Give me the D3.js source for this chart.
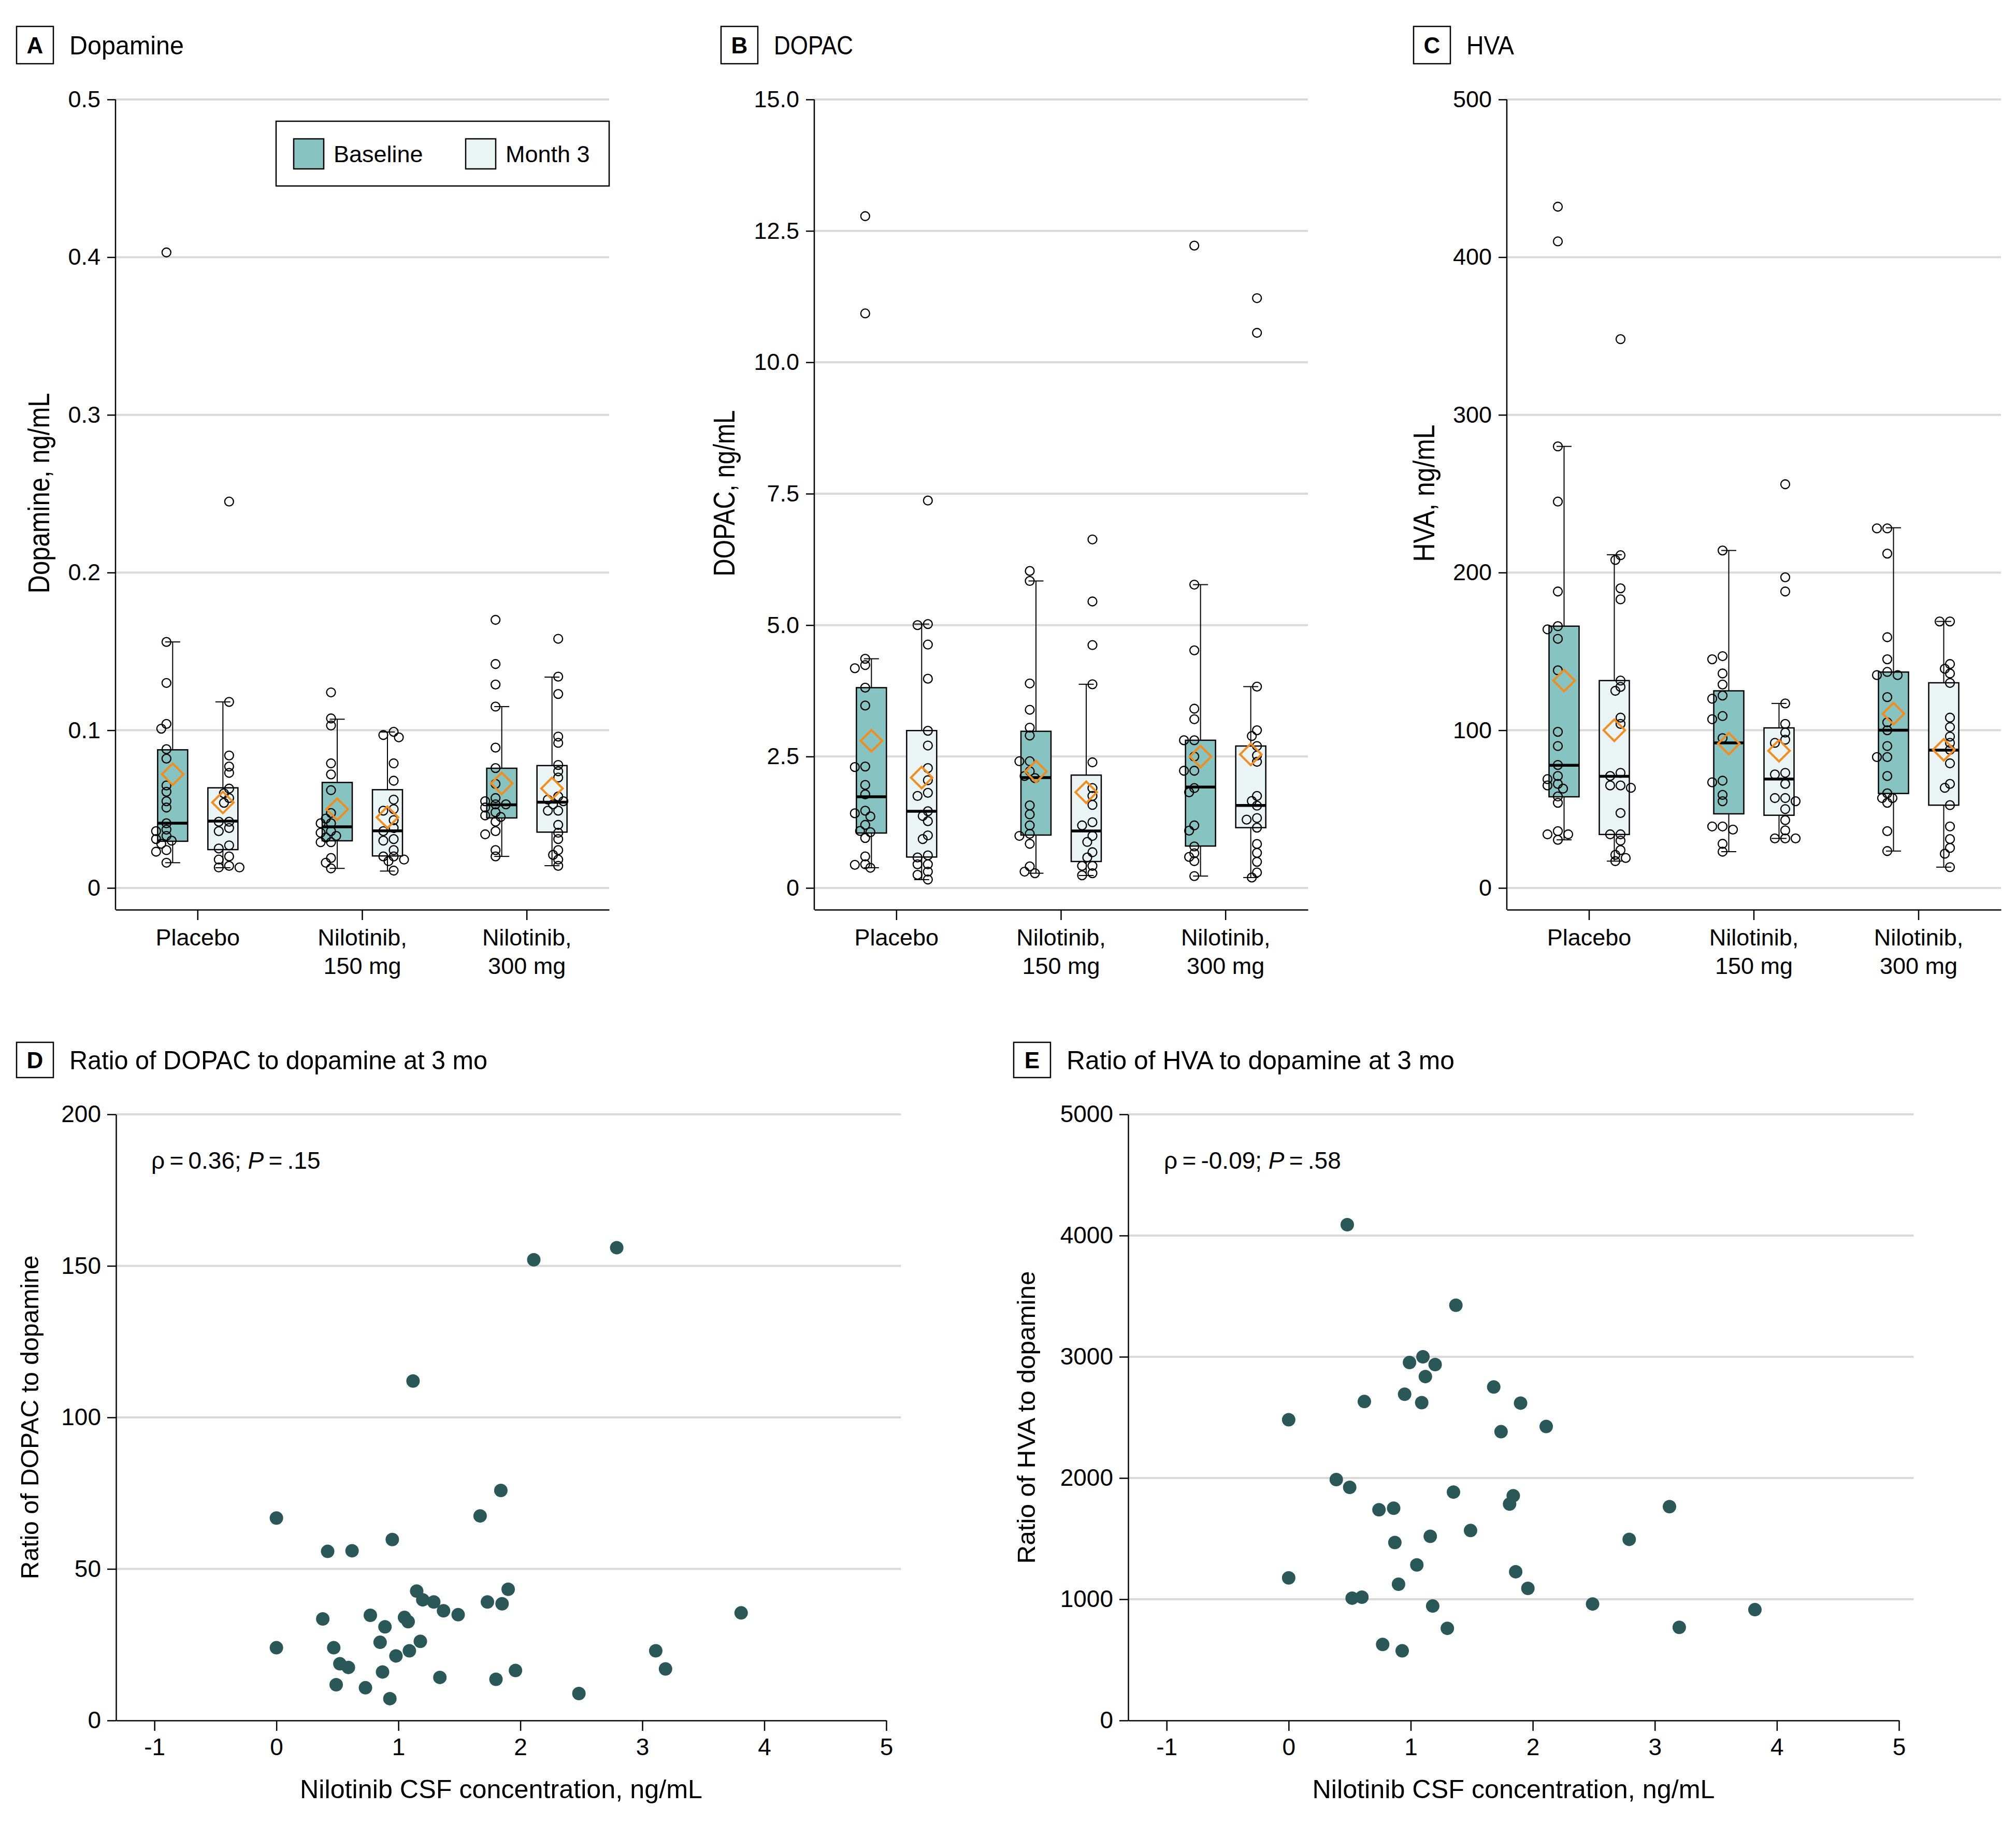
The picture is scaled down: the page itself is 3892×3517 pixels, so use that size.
<!DOCTYPE html>
<html>
<head>
<meta charset="utf-8">
<script src="https://cdn.jsdelivr.net/npm/d3@7"></script>
<style>
  body { margin: 0; background: #fff; }
  svg text { font-family: "Liberation Sans", Arial, sans-serif; fill: #000; }
</style>
</head>
<body>
<svg id="chart" width="3892" height="3517"></svg>
<script>
// ---- categories ----
const groups = ["Placebo", "Nilotinib, 150 mg", "Nilotinib, 300 mg"];
const groupLines = [["Placebo"], ["Nilotinib,", "150 mg"], ["Nilotinib,", "300 mg"]];
const timepoints = ["Baseline", "Month 3"];

// box stats per series, order: placebo base, placebo m3, 150 base, 150 m3, 300 base, 300 m3
// [lower whisker, q1, median, q3, upper whisker, mean]
const dopamineBoxes = [
  [0.016, 0.0296, 0.0411, 0.0876, 0.156, 0.0721],
  [0.0128, 0.0243, 0.0424, 0.0635, 0.118, 0.0542],
  [0.0124, 0.0299, 0.0388, 0.0669, 0.107, 0.0499],
  [0.0107, 0.0203, 0.0362, 0.0623, 0.0989, 0.0448],
  [0.020, 0.0444, 0.0527, 0.0759, 0.115, 0.0663],
  [0.0141, 0.0354, 0.0544, 0.0776, 0.1337, 0.0631]
];
const dopaminePoints = [
  [0.403, 0.156, 0.130, 0.104, 0.101, 0.088, 0.082, 0.065, 0.061, 0.055, 0.051, 0.041, 0.037, 0.036, 0.033, 0.031, 0.030, 0.028, 0.024, 0.023, 0.016],
  [0.245, 0.118, 0.084, 0.077, 0.073, 0.063, 0.060, 0.057, 0.054, 0.042, 0.042, 0.038, 0.036, 0.027, 0.025, 0.020, 0.018, 0.014, 0.013, 0.013],
  [0.124, 0.1075, 0.103, 0.079, 0.072, 0.062, 0.0475, 0.044, 0.041, 0.041, 0.036, 0.035, 0.033, 0.032, 0.029, 0.029, 0.019, 0.016, 0.0124],
  [0.099, 0.097, 0.0955, 0.079, 0.068, 0.056, 0.050, 0.049, 0.043, 0.038, 0.036, 0.031, 0.030, 0.024, 0.020, 0.020, 0.018, 0.017, 0.011],
  [0.170, 0.142, 0.129, 0.115, 0.089, 0.076, 0.066, 0.057, 0.055, 0.053, 0.053, 0.051, 0.048, 0.046, 0.045, 0.042, 0.036, 0.034, 0.024, 0.020],
  [0.158, 0.134, 0.123, 0.096, 0.092, 0.078, 0.074, 0.070, 0.058, 0.056, 0.055, 0.053, 0.049, 0.049, 0.040, 0.035, 0.031, 0.024, 0.021, 0.018, 0.014]
];

const dopacBoxes = [
  [0.384, 1.045, 1.734, 3.81, 4.36, 2.80],
  [0.158, 0.588, 1.458, 2.994, 5.02, 2.10],
  [0.28, 1.006, 2.10, 2.98, 5.84, 2.215],
  [0.237, 0.503, 1.085, 2.147, 3.875, 1.82],
  [0.226, 0.797, 1.92, 2.81, 5.77, 2.50],
  [0.198, 1.147, 1.57, 2.70, 3.83, 2.54]
];
const dopacPoints = [
  [12.78, 10.93, 4.36, 4.24, 4.18, 3.81, 3.47, 2.31, 2.30, 1.96, 1.78, 1.47, 1.42, 1.36, 1.20, 1.085, 1.06, 0.95, 0.60, 0.45, 0.44, 0.384],
  [7.37, 5.02, 5.0, 4.63, 3.98, 2.99, 2.71, 2.28, 2.05, 1.81, 1.75, 1.46, 1.37, 1.27, 1.0, 0.93, 0.62, 0.58, 0.45, 0.45, 0.31, 0.25, 0.16],
  [6.03, 5.84, 3.89, 3.39, 3.05, 2.90, 2.41, 2.41, 2.22, 2.13, 2.09, 1.57, 1.40, 1.19, 1.03, 0.99, 0.84, 0.41, 0.31, 0.28],
  [6.63, 5.45, 4.62, 3.875, 2.39, 1.90, 1.75, 1.58, 1.25, 1.19, 0.99, 0.875, 0.68, 0.58, 0.42, 0.42, 0.28, 0.24],
  [12.22, 5.77, 4.52, 3.41, 3.21, 2.81, 2.81, 2.50, 2.23, 2.23, 1.90, 1.82, 1.19, 1.09, 0.79, 0.66, 0.59, 0.51, 0.226],
  [11.22, 10.56, 3.83, 3.0, 2.89, 2.70, 2.52, 2.40, 1.75, 1.655, 1.565, 1.33, 1.30, 1.147, 0.836, 0.667, 0.497, 0.294, 0.198]
];

const hvaBoxes = [
  [30.5, 57.8, 77.8, 166, 280, 131.5],
  [17, 33.9, 70.8, 131.5, 211.3, 100],
  [23, 47, 92, 125, 214, 91.5],
  [31.4, 46.1, 69.1, 101.5, 117, 87],
  [23.4, 59.9, 100, 136.9, 228.4, 110.5],
  [13.2, 52.5, 87.4, 130.1, 169, 87.6]
];
const hvaPoints = [
  [432, 410, 280, 245, 188, 166, 164, 158, 138, 99, 90, 78, 71, 69, 66, 65, 63, 58, 54, 36, 34, 34, 30.5],
  [348, 211, 208, 190, 183, 131.5, 127.5, 125, 108, 104, 73, 71, 65, 65, 63.5, 47.5, 34, 34, 30, 24, 21, 19, 17],
  [214, 147, 145, 136, 129, 122, 120, 109, 107, 95, 68, 67, 59, 55, 39, 39, 37, 28, 23],
  [256, 197, 188, 117, 104, 98.5, 94, 92, 73, 72, 66, 57, 57, 55, 50, 43, 36.5, 31.4, 31.4, 31.4],
  [228, 228, 212, 159, 145, 137, 135, 135, 121, 105, 100, 90, 83, 83, 71, 60, 57, 57, 54, 36, 23.4],
  [169, 169, 142, 139, 136, 130, 108, 102, 96, 92, 87.6, 79, 66, 63.5, 52.5, 39, 31, 25.4, 21.7, 13.2]
];

// tick values
const dopamineTicks = [0, 0.1, 0.2, 0.3, 0.4, 0.5];
const dopacTicks = [0, 2.5, 5, 7.5, 10, 12.5, 15];
const hvaTicks = [0, 100, 200, 300, 400, 500];
const csfTicks = [-1, 0, 1, 2, 3, 4, 5];
const dopacRatioTicks = [0, 50, 100, 150, 200];
const hvaRatioTicks = [0, 1000, 2000, 3000, 4000, 5000];

// scatter: nilotinib CSF concentration vs ratio at 3 mo
const dopacRatioX = [2.79, 2.11, 1.12, 1.84, 1.67, 0.0, 0.95, 0.42, 0.62, 1.15, 1.90, 1.20, 1.29, 1.73, 1.85, 1.37, 1.49, 0.77, 0.38, 1.05, 1.08, 0.89, 3.81, 0.0, 0.47, 0.85, 1.18, 0.98, 1.09, 0.52, 0.59, 0.87, 3.11, 3.19, 1.96, 1.34, 1.80, 0.49, 0.73, 0.93, 2.48];
const dopacRatioY = [156, 152, 112, 75.9, 67.5, 66.8, 59.7, 55.8, 56, 42.7, 43.3, 39.8, 39.1, 39.1, 38.5, 36.2, 34.9, 34.7, 33.5, 34.0, 32.6, 30.9, 35.5, 24.0, 24.0, 25.8, 26.1, 21.3, 23.0, 18.7, 17.5, 16.0, 23.0, 17.0, 16.5, 14.2, 13.6, 11.8, 10.8, 7.2, 8.9];
const hvaRatioX = [0.48, 1.37, 1.10, 0.99, 1.20, 1.12, 1.68, 0.95, 0.62, 1.09, 1.90, 0.0, 2.11, 1.74, 0.39, 0.50, 1.35, 1.84, 1.81, 0.74, 0.86, 3.12, 2.79, 1.49, 1.16, 0.87, 1.05, 0.0, 1.86, 0.90, 1.96, 0.52, 0.60, 1.18, 2.49, 3.82, 1.30, 3.20, 0.77, 0.93];
const hvaRatioY = [4090, 3425, 3000, 2953, 2936, 2837, 2751, 2691, 2631, 2622, 2618, 2481, 2425, 2382, 1987, 1923, 1884, 1854, 1785, 1738, 1751, 1764, 1494, 1567, 1519, 1468, 1283, 1176, 1227, 1124, 1090, 1009, 1017, 944, 961, 914, 760, 768, 627, 575];

// ---- styles ----
const BASE_FILL = "#86c3c1";
const M3_FILL = "#eaf4f4";
const MEAN_COLOR = "#f28c1c";
const GRID = "#d9d9d9";
const DOT = "#2a5757";

const svg = d3.select("#chart");

function header(x, y, h, letter, title, titleLen) {
  svg.append("rect")
    .attr("x", x).attr("y", y).attr("width", 71).attr("height", h)
    .attr("fill", "none").attr("stroke", "#000").attr("stroke-width", 2.5);
  svg.append("text")
    .attr("x", x + 35.5).attr("y", y + h / 2 + 16)
    .attr("text-anchor", "middle").attr("font-weight", "bold").attr("font-size", 44)
    .text(letter);
  svg.append("text")
    .attr("x", x + 102).attr("y", y + h / 2 + 18)
    .attr("font-size", 50)
    .attr("textLength", titleLen).attr("lengthAdjust", "spacingAndGlyphs")
    .text(title);
}

function yTitle(x, y, str, size, len) {
  svg.append("text")
    .attr("transform", `translate(${x},${y}) rotate(-90)`)
    .attr("text-anchor", "middle").attr("font-size", size)
    .attr("textLength", len).attr("lengthAdjust", "spacingAndGlyphs")
    .text(str);
}

// simple beeswarm: nudge a point sideways when it would sit on a placed one
function swarm(vals, y, cx) {
  const placed = [];
  const steps = [0, -10, 10, -20, 20, -30, 30];
  return vals.map(v => {
    const py = y(v);
    let px = cx;
    for (const s of steps) {
      const tx = cx + s;
      if (placed.every(p => Math.hypot(p[0] - tx, p[1] - py) >= 12)) { px = tx; break; }
    }
    placed.push([px, py]);
    return [px, py];
  });
}

function boxPanel(cfg) {
  const top = 192, zeroY = 1714, axisY = 1756;
  const x = d3.scaleBand().domain(groups).range([cfg.x0, cfg.x1]);
  const sub = d3.scaleBand().domain(timepoints).range([-97, 97]);
  const y = d3.scaleLinear().domain([0, cfg.max]).range([zeroY, top]);
  const g = svg.append("g");

  g.selectAll("line.grid").data(cfg.ticks).join("line")
    .attr("class", "grid")
    .attr("x1", cfg.x0).attr("x2", cfg.x1)
    .attr("y1", d => y(d)).attr("y2", d => y(d))
    .attr("stroke", GRID).attr("stroke-width", 4);

  const ya = g.append("g")
    .attr("transform", `translate(${cfg.x0},0)`)
    .call(d3.axisLeft(y).tickValues(cfg.ticks).tickFormat(cfg.fmt).tickSize(16).tickPadding(13));
  ya.select(".domain").remove();
  ya.selectAll("line").attr("stroke-width", 2.5);
  ya.selectAll("text").attr("font-size", 45).style("font-family", null);
  g.append("line")
    .attr("x1", cfg.x0).attr("x2", cfg.x0).attr("y1", top).attr("y2", axisY)
    .attr("stroke", "#000").attr("stroke-width", 2.5);

  const xa = g.append("g")
    .attr("transform", `translate(0,${axisY})`)
    .call(d3.axisBottom(x).tickSize(20).tickSizeOuter(0).tickFormat(""));
  xa.select(".domain").attr("stroke-width", 2.5);
  xa.selectAll("line").attr("stroke-width", 2.5);
  groups.forEach((grp, i) => {
    const t = g.append("text").attr("text-anchor", "middle").attr("font-size", 45);
    groupLines[i].forEach((ln, j) => {
      t.append("tspan")
        .attr("x", x(grp) + x.bandwidth() / 2)
        .attr("y", 1825 + j * 55)
        .text(ln);
    });
  });

  const bw = 58;
  groups.forEach((grp, gi) => {
    timepoints.forEach((tp, ti) => {
      const k = gi * 2 + ti;
      const [lo, q1, med, q3, hi, mean] = cfg.boxes[k];
      const cx = x(grp) + x.bandwidth() / 2 + sub(tp) + sub.bandwidth() / 2;
      const s = g.append("g");
      // whiskers
      s.append("line").attr("x1", cx).attr("x2", cx).attr("y1", y(q3)).attr("y2", y(hi))
        .attr("stroke", "#000").attr("stroke-width", 2);
      s.append("line").attr("x1", cx).attr("x2", cx).attr("y1", y(q1)).attr("y2", y(lo))
        .attr("stroke", "#000").attr("stroke-width", 2);
      [lo, hi].forEach(v => {
        s.append("line").attr("x1", cx - 14.5).attr("x2", cx + 14.5).attr("y1", y(v)).attr("y2", y(v))
          .attr("stroke", "#000").attr("stroke-width", 2);
      });
      s.append("rect")
        .attr("x", cx - bw / 2).attr("width", bw)
        .attr("y", y(q3)).attr("height", y(q1) - y(q3))
        .attr("fill", ti === 0 ? BASE_FILL : M3_FILL)
        .attr("stroke", "#000").attr("stroke-width", 2.5);
      s.append("line").attr("x1", cx - bw / 2).attr("x2", cx + bw / 2).attr("y1", y(med)).attr("y2", y(med))
        .attr("stroke", "#000").attr("stroke-width", 5.5);
      // individual values
      const pts = swarm(cfg.points[k], y, cx + (ti === 0 ? -12 : 12));
      s.selectAll("circle").data(pts).join("circle")
        .attr("cx", d => d[0]).attr("cy", d => d[1]).attr("r", 8.5)
        .attr("fill", "none").attr("stroke", "#000").attr("stroke-width", 2.3);
      // mean
      s.append("path")
        .attr("d", d3.symbol(d3.symbolSquare, 860)())
        .attr("transform", `translate(${cx},${y(mean)}) rotate(45)`)
        .attr("fill", "none").attr("stroke", MEAN_COLOR).attr("stroke-width", 4);
    });
  });
}

function scatterPanel(cfg) {
  const x = d3.scaleLinear().domain([-1.315, 5]).range([cfg.x0, cfg.x1]);
  const y = d3.scaleLinear().domain([0, cfg.max]).range([3321, 2151]);
  const g = svg.append("g");

  g.selectAll("line.grid").data(cfg.ticks.filter(d => d > 0)).join("line")
    .attr("class", "grid")
    .attr("x1", cfg.x0).attr("x2", x(5.12))
    .attr("y1", d => y(d)).attr("y2", d => y(d))
    .attr("stroke", GRID).attr("stroke-width", 4);

  const ya = g.append("g")
    .attr("transform", `translate(${cfg.x0},0)`)
    .call(d3.axisLeft(y).tickValues(cfg.ticks).tickFormat(d => String(d)).tickSize(17).tickPadding(12).tickSizeOuter(0));
  ya.selectAll("line, path").attr("stroke-width", 2.5);
  ya.selectAll("text").attr("font-size", 46).style("font-family", null);

  const xa = g.append("g")
    .attr("transform", `translate(0,${y(0)})`)
    .call(d3.axisBottom(x).tickValues(csfTicks).tickFormat(d => String(d)).tickSize(20).tickPadding(14).tickSizeOuter(0));
  xa.selectAll("line, path").attr("stroke-width", 2.5);
  xa.selectAll("text").attr("font-size", 46).style("font-family", null);

  g.append("text")
    .attr("x", (cfg.x0 + cfg.x1) / 2).attr("y", 3471)
    .attr("text-anchor", "middle").attr("font-size", 50)
    .attr("textLength", 777).attr("lengthAdjust", "spacingAndGlyphs")
    .text("Nilotinib CSF concentration, ng/mL");

  const r = g.append("text")
    .attr("x", cfg.rhoX).attr("y", 2256).attr("font-size", 46);
  r.append("tspan").text(`ρ\u2009=\u2009${cfg.rho}; `);
  r.append("tspan").attr("font-style", "italic").text("P");
  r.append("tspan").text(`\u2009=\u2009${cfg.p}`);

  g.selectAll("circle").data(cfg.xs.map((v, i) => [v, cfg.ys[i]])).join("circle")
    .attr("cx", d => x(d[0])).attr("cy", d => y(d[1])).attr("r", 13)
    .attr("fill", DOT);
}

// ---- panels A–C ----
header(32, 51, 72, "A", "Dopamine", 221);
header(1392, 51, 72, "B", "DOPAC", 153);
header(2729, 51, 72, "C", "HVA", 92);

const fmt1 = d => d === 0 ? "0" : d.toFixed(1);
boxPanel({ x0: 223, x1: 1176, max: 0.5, ticks: dopamineTicks, fmt: fmt1, boxes: dopamineBoxes, points: dopaminePoints });
boxPanel({ x0: 1572, x1: 2525, max: 15, ticks: dopacTicks, fmt: fmt1, boxes: dopacBoxes, points: dopacPoints });
boxPanel({ x0: 2909, x1: 3863, max: 500, ticks: hvaTicks, fmt: d => String(d), boxes: hvaBoxes, points: hvaPoints });

yTitle(95, 952, "Dopamine, ng/mL", 58, 387);
yTitle(1418, 952, "DOPAC, ng/mL", 58, 321);
yTitle(2769, 952, "HVA, ng/mL", 58, 265);

// legend (panel A)
const lg = svg.append("g");
lg.append("rect").attr("x", 533).attr("y", 234).attr("width", 643).attr("height", 125)
  .attr("fill", "#fff").attr("stroke", "#000").attr("stroke-width", 2.5);
timepoints.forEach((tp, i) => {
  const lx = 567 + i * 332;
  lg.append("rect").attr("x", lx).attr("y", 268).attr("width", 58).attr("height", 58)
    .attr("fill", i === 0 ? BASE_FILL : M3_FILL).attr("stroke", "#000").attr("stroke-width", 2.5);
  lg.append("text").attr("x", lx + 77).attr("y", 313).attr("font-size", 45).text(tp);
});

// ---- panels D–E ----
header(32, 2012, 68, "D", "Ratio of DOPAC to dopamine at 3 mo", 807);
header(1957, 2012, 68, "E", "Ratio of HVA to dopamine at 3 mo", 749);

scatterPanel({ x0: 224, x1: 1711, max: 200, ticks: dopacRatioTicks, xs: dopacRatioX, ys: dopacRatioY, rhoX: 292, rho: "0.36", p: ".15" });
scatterPanel({ x0: 2178, x1: 3666, max: 5000, ticks: hvaRatioTicks, xs: hvaRatioX, ys: hvaRatioY, rhoX: 2247, rho: "-0.09", p: ".58" });

yTitle(74, 2736, "Ratio of DOPAC to dopamine", 48, 625);
yTitle(1998, 2736, "Ratio of HVA to dopamine", 48, 565);
</script>
</body>
</html>
